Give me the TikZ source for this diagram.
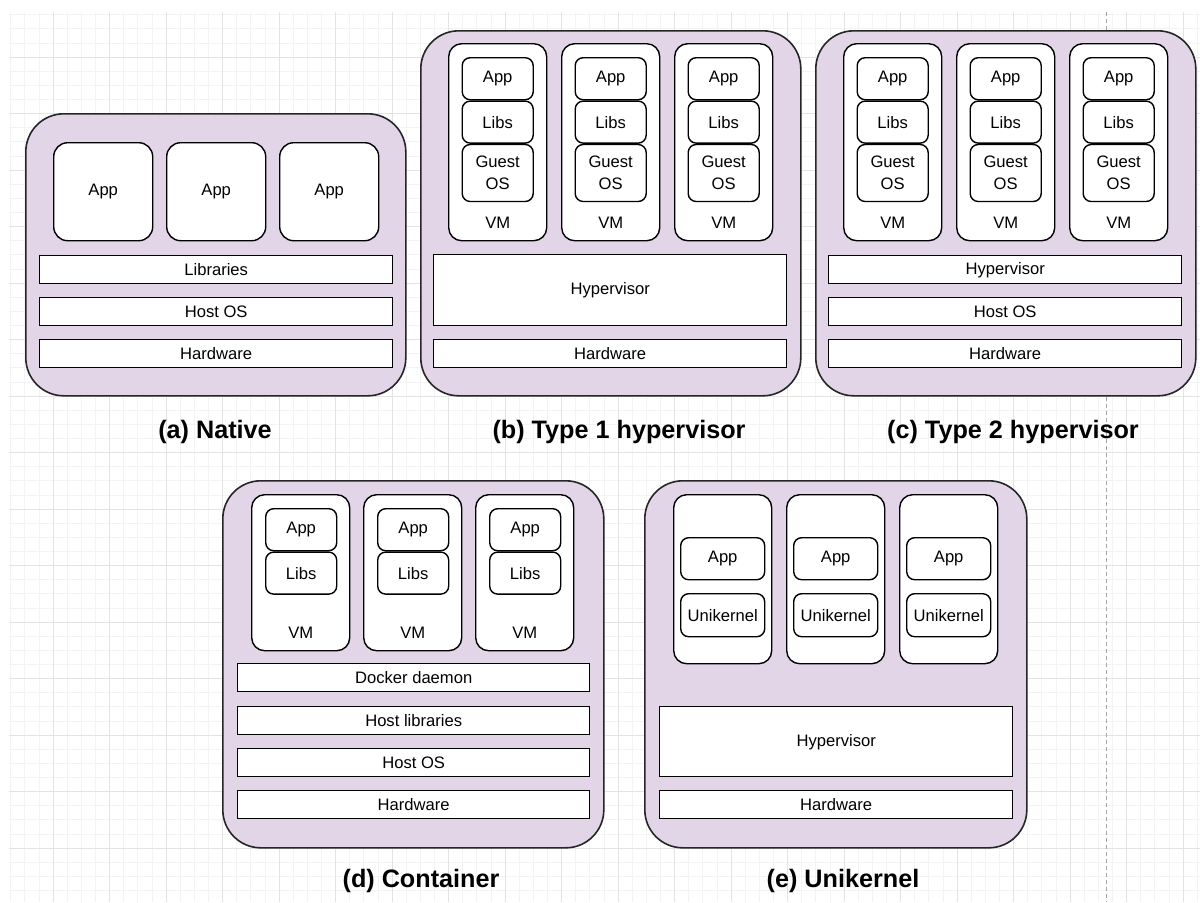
\documentclass[tikz,border=0pt]{standalone}
\usepackage{fontspec}
\setmainfont{Liberation Sans}
\usetikzlibrary{positioning}

\definecolor{panelfill}{HTML}{E1D5E7}
\definecolor{gridminor}{HTML}{F3F3F3}
\definecolor{gridmajor}{HTML}{E3E3E3}

\begin{document}
\begin{tikzpicture}[
    x=0.5pt, y=-0.5pt,
    panel/.style={rectangle, draw=black!85, line width=0.8pt, fill=panelfill, rounded corners=19pt, anchor=north west, inner sep=0pt, minimum width=190pt},
    vmbox/.style={rectangle, draw=black, line width=0.7pt, fill=white, rounded corners=6.5pt, anchor=north west, inner sep=0pt, minimum width=49pt},
    appbox/.style={rectangle, draw=black, line width=0.7pt, fill=white, rounded corners=7pt, anchor=north west, inner sep=0pt, minimum width=49.5pt, minimum height=49pt, font=\fontsize{8.3}{10}\selectfont},
    part/.style={rectangle, draw=black, line width=0.7pt, fill=white, rounded corners=4pt, anchor=north west, inner sep=0pt, minimum width=35.5pt, minimum height=21pt, align=center, font=\fontsize{8.3}{11}\selectfont},
    layer/.style={rectangle, draw=black, line width=0.7pt, fill=white, anchor=north west, inner sep=0pt, minimum width=176.5pt, minimum height=14pt, font=\fontsize{8.3}{10}\selectfont},
    vmlabel/.style={inner sep=0pt, font=\fontsize{8.3}{10}\selectfont},
    caption/.style={inner sep=0pt, font=\fontsize{12.6}{15}\selectfont\bfseries}
]

    % --- BACKGROUND GRID ---
    \fill [white] (0,0) rectangle (1200,902);
    \useasboundingbox (0,0) rectangle (1200,902);
    \foreach \i in {0,...,84}
        \draw [gridminor, line width=0.4pt] (10.7+14.125*\i,12) -- (10.7+14.125*\i,902);
    \foreach \j in {0,...,62}
        \draw [gridminor, line width=0.4pt] (9,14.7+14.125*\j) -- (1200,14.7+14.125*\j);
    \foreach \i in {0,...,20}
        \draw [gridmajor, line width=0.5pt] (53.1+56.5*\i,12) -- (53.1+56.5*\i,902);
    \foreach \j in {0,...,14}
        \draw [gridmajor, line width=0.5pt] (9,57.1+56.5*\j) -- (1200,57.1+56.5*\j);
    \coordinate (pagetop) at (1106,12);
    \coordinate (pagebot) at (1106,902);
    \draw [black!35, line width=0.4pt, dash pattern=on 2pt off 1.5pt] (pagetop) -- (pagebot);

    % --- PANEL A: Native ---
    \node [panel, minimum height=141pt] (native) at (25,113) {};
    \foreach \i/\x in {1/53, 2/166, 3/279}
        \node [appbox] (nat-app\i) at (\x,142) {App};
    \node [layer] (nat-lib) at (39,255) {Libraries};
    \node [layer] (nat-os) at (39,297) {Host OS};
    \node [layer] (nat-hw) at (39,339) {Hardware};
    \node [caption] (cap-a) at (215,432) {(a) Native};

    % --- PANEL B: Type 1 hypervisor ---
    \node [panel, minimum height=182.5pt] (type1) at (420,30) {};
    \foreach \i/\x in {1/448, 2/561, 3/674} {
        \node [vmbox, minimum height=98.5pt] (t1-vm\i) at (\x,43) {};
        \node [part] (t1-app\i) at (\x+13.5,57) {App};
        \node [part, below=0pt of t1-app\i] (t1-lib\i) {Libs};
        \node [part, minimum height=28.5pt, below=0pt of t1-lib\i] (t1-os\i) {Guest\\OS};
        \node [vmlabel, above=6.5pt of t1-vm\i.south] (t1-vml\i) {VM};
    }
    \node [layer, minimum height=35.5pt] (t1-hyp) at (433,254) {Hypervisor};
    \node [layer] (t1-hw) at (433,339) {Hardware};
    \node [caption] (cap-b) at (619,432) {(b) Type 1 hypervisor};

    % --- PANEL C: Type 2 hypervisor ---
    \node [panel, minimum height=182.5pt] (type2) at (815,30) {};
    \foreach \i/\x in {1/843, 2/956, 3/1069} {
        \node [vmbox, minimum height=98.5pt] (t2-vm\i) at (\x,43) {};
        \node [part] (t2-app\i) at (\x+13.5,57) {App};
        \node [part, below=0pt of t2-app\i] (t2-lib\i) {Libs};
        \node [part, minimum height=28.5pt, below=0pt of t2-lib\i] (t2-os\i) {Guest\\OS};
        \node [vmlabel, above=6.5pt of t2-vm\i.south] (t2-vml\i) {VM};
    }
    \node [layer] (t2-hyp) at (828,255) {Hypervisor};
    \node [layer] (t2-os) at (828,297) {Host OS};
    \node [layer] (t2-hw) at (828,339) {Hardware};
    \node [caption] (cap-c) at (1013,432) {(c) Type 2 hypervisor};

    % --- PANEL D: Container ---
    \node [panel, minimum width=190.5pt, minimum height=183.5pt] (cont) at (222,480) {};
    \foreach \i/\x in {1/251, 2/363, 3/475} {
        \node [vmbox, minimum height=78pt] (ct-vm\i) at (\x,494) {};
        \node [part] (ct-app\i) at (\x+14,508) {App};
        \node [part, below=0pt of ct-app\i] (ct-lib\i) {Libs};
        \node [vmlabel, above=6.5pt of ct-vm\i.south] (ct-vml\i) {VM};
    }
    \node [layer, minimum width=176pt] (ct-dock) at (237,663) {Docker daemon};
    \node [layer, minimum width=176pt] (ct-lib) at (237,706) {Host libraries};
    \node [layer, minimum width=176pt] (ct-os) at (237,748) {Host OS};
    \node [layer, minimum width=176pt] (ct-hw) at (237,790) {Hardware};
    \node [caption] (cap-d) at (421,881) {(d) Container};

    % --- PANEL E: Unikernel ---
    \node [panel, minimum width=191pt, minimum height=183.5pt] (uni) at (644,480) {};
    \foreach \i/\x in {1/673, 2/786, 3/899} {
        \node [vmbox, minimum height=84.5pt] (uk-vm\i) at (\x,494) {};
        \node [part, minimum width=42pt] (uk-app\i) at (\x+7,537) {App};
        \node [part, minimum width=42pt, minimum height=21.5pt] (uk-kern\i) at (\x+7,593) {Unikernel};
    }
    \node [layer, minimum height=35pt] (uk-hyp) at (659,706) {Hypervisor};
    \node [layer] (uk-hw) at (659,790) {Hardware};
    \node [caption] (cap-e) at (843,881) {(e) Unikernel};

\end{tikzpicture}
\end{document}
